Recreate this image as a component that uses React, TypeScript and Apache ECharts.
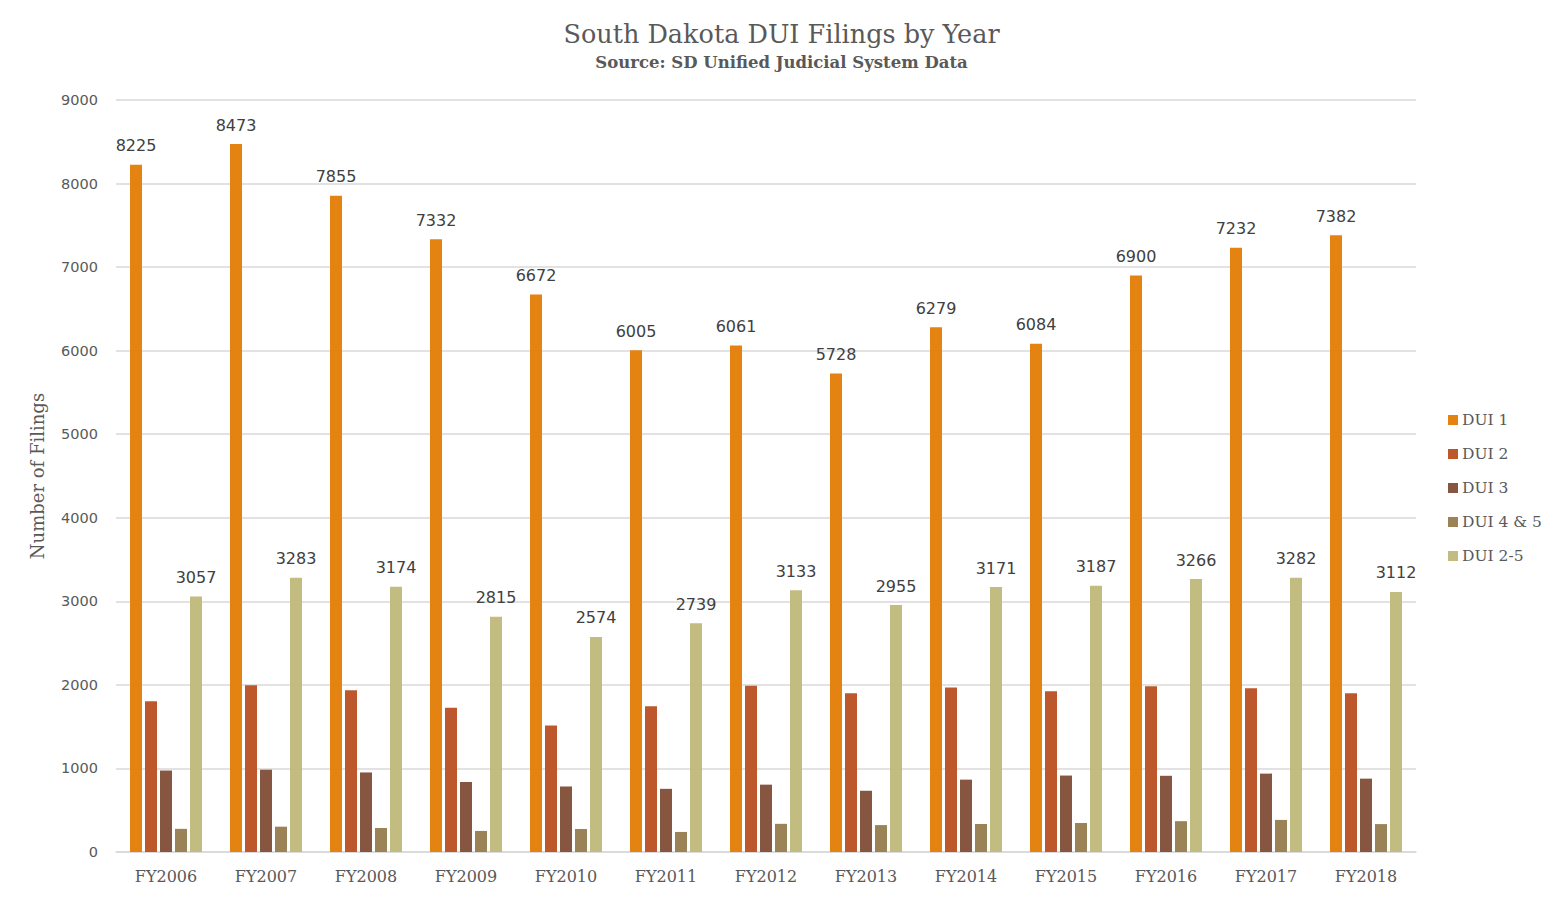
import React, { useEffect, useRef } from "react";
import * as echarts from "echarts";

const categories = ["FY2006","FY2007","FY2008","FY2009","FY2010","FY2011","FY2012","FY2013","FY2014","FY2015","FY2016","FY2017","FY2018"];
const dui1 = [8225, 8473, 7855, 7332, 6672, 6005, 6061, 5728, 6279, 6084, 6900, 7232, 7382];
const dui2 = [1805, 1995, 1935, 1725, 1515, 1743, 1990, 1900, 1970, 1925, 1985, 1960, 1900];
const dui3 = [975, 985, 952, 838, 784, 756, 806, 733, 866, 915, 912, 938, 878];
const dui45 = [277, 303, 287, 252, 275, 240, 337, 322, 335, 347, 369, 384, 334];
const dui25 = [3057, 3283, 3174, 2815, 2574, 2739, 3133, 2955, 3171, 3187, 3266, 3282, 3112];
const seriesNames = ["DUI 1", "DUI 2", "DUI 3", "DUI 4 & 5", "DUI 2-5"];
const colors = ["#E48312", "#BD582C", "#865640", "#9B8357", "#C2BC80"];

const FONT = "'DejaVu Serif', serif";
const NUMFONT = "'DejaVu Sans', sans-serif";

export default function App() {
  const ref = useRef<HTMLDivElement>(null);
  useEffect(() => {
    document.body.style.margin = "0";
    const chart = echarts.init(ref.current!, undefined, { renderer: "svg" });
    const dataSets = [dui1, dui2, dui3, dui45, dui25];
    const labelled = [true, false, false, false, true];
    chart.setOption({
      animation: false,
      color: colors,
      textStyle: { fontFamily: FONT },
      title: {
        text: "South Dakota DUI Filings by Year",
        subtext: "Source: SD Unified Judicial System Data",
        left: "center",
        top: 16,
        itemGap: 7,
        textStyle: { fontFamily: FONT, fontSize: 25.5, fontWeight: "normal", color: "#595959" },
        subtextStyle: { fontFamily: FONT, fontSize: 16.5, fontWeight: "bold", color: "#595959" },
      },
      legend: {
        orient: "vertical",
        left: 1448,
        top: 412,
        padding: 0,
        itemWidth: 10,
        itemHeight: 10,
        itemGap: 18,
        icon: "rect",
        textStyle: { fontFamily: FONT, fontSize: 15.5, color: "#595959", padding: [0, 0, 0, -1] },
        data: seriesNames,
      },
      grid: { left: 116, right: 147, top: 100, bottom: 48 },
      xAxis: {
        type: "category",
        data: categories,
        axisTick: { show: false },
        axisLine: { lineStyle: { color: "#d9d9d9", width: 1.5 } },
        axisLabel: { fontFamily: FONT, fontSize: 16, color: "#595959", margin: 16 },
      },
      yAxis: {
        type: "value",
        min: 0,
        max: 9000,
        interval: 1000,
        name: "Number of Filings",
        nameLocation: "middle",
        nameGap: 70,
        nameTextStyle: { fontFamily: FONT, fontSize: 18, color: "#595959", fontWeight: "normal" },
        axisLabel: {
          fontFamily: NUMFONT,
          fontSize: 14.5,
          color: "#595959",
          margin: 18,
          formatter: (v: number) => String(v),
        },
        splitLine: { lineStyle: { color: "#d9d9d9", width: 1.5 } },
      },
      series: dataSets.map((d, i) => ({
        name: seriesNames[i],
        type: "bar",
        data: d,
        barWidth: 12,
        barGap: "25%",
        label: labelled[i]
          ? { show: true, position: "top", distance: 11, fontFamily: NUMFONT, fontSize: 16, color: "#404040" }
          : { show: false },
      })),
    });
    return () => chart.dispose();
  }, []);
  return <div ref={ref} style={{ width: 1563, height: 900 }} />;
}
